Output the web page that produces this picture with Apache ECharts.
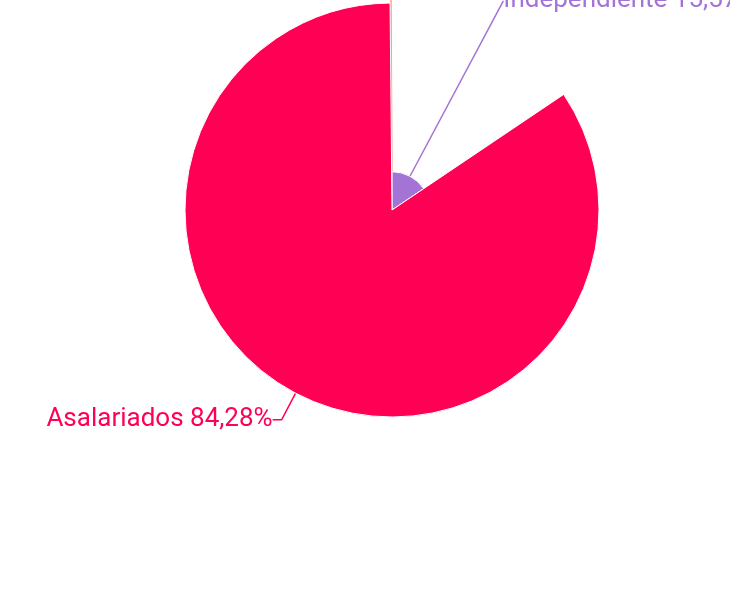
<!DOCTYPE html>
<html>
<head>
<meta charset="utf-8">
<script src="https://cdn.jsdelivr.net/npm/echarts@6/dist/echarts.min.js"></script>
<style>
html,body{margin:0;padding:0;background:#fff;}
#chart{width:730px;height:612px;}
</style>
</head>
<body>
<div id="chart"></div>
<script>
const categories = ['Independiente', 'Asalariados', 'Otros'];
const values = [15.57, 84.28, 0.15];
const colors = ['#a374d5', '#ff0055', '#ff9f7f'];
const lineLengths2 = [0, 9, 6];

const chart = echarts.init(document.getElementById('chart'), null, {renderer: 'canvas'});
const data = categories.map((name, i) => ({
  name: name,
  value: values[i],
  itemStyle: {color: colors[i]},
  label: {color: colors[i]},
  labelLine: {length2: lineLengths2[i], lineStyle: {color: colors[i]}}
}));

chart.setOption({
  animation: false,
  backgroundColor: '#ffffff',
  series: [{
    type: 'pie',
    roseType: 'radius',
    center: [392, 210],
    radius: [0, 207],
    startAngle: 90,
    clockwise: true,
    avoidLabelOverlap: false,
    itemStyle: {borderColor: '#ffffff', borderWidth: 1},
    label: {
      show: true,
      fontFamily: 'Roboto',
      fontSize: 26,
      distanceToLabelLine: 0,
      formatter: function (p) {
        return p.name + ' ' + p.value.toFixed(2).replace('.', ',') + '%';
      }
    },
    labelLine: {show: true, length: 30, lineStyle: {width: 1.5}},
    data: data
  }]
});
</script>
</body>
</html>
